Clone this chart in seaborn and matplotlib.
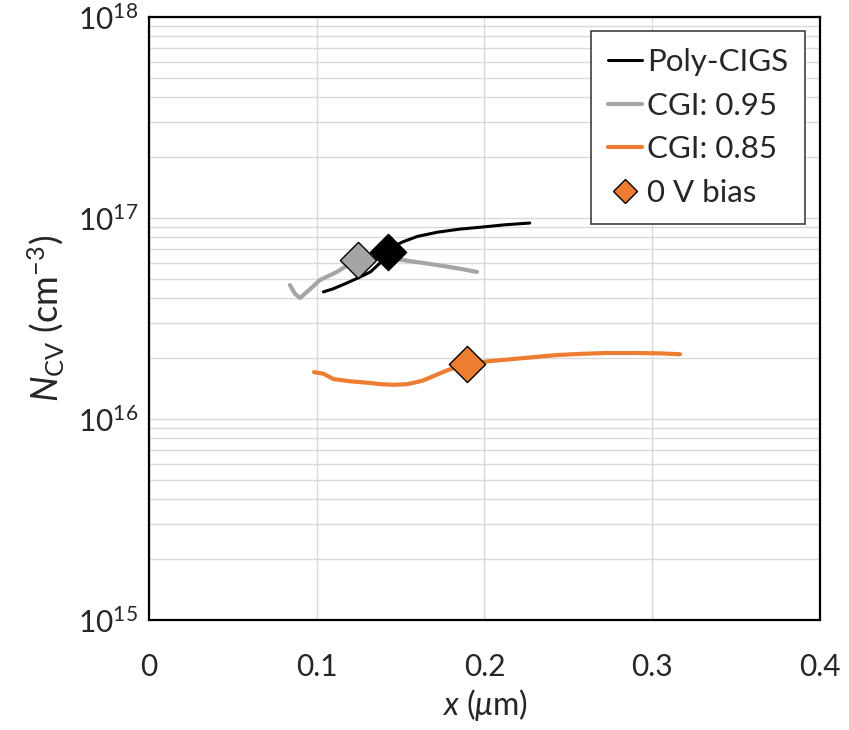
import pandas as pd
import matplotlib.pyplot as plt
import seaborn as sns
from matplotlib.lines import Line2D

sns.set_style("whitegrid")
plt.rcParams["font.family"] = ["Lato", "DejaVu Sans"]
plt.rcParams["mathtext.fontset"] = "custom"
plt.rcParams["mathtext.rm"] = "Lato"
plt.rcParams["mathtext.it"] = "Lato:italic"

# Poly-CIGS
poly_x = [0.104, 0.110, 0.118, 0.125, 0.132, 0.138, 0.1425, 0.147, 0.151, 0.160,
          0.172, 0.185, 0.199, 0.212, 0.227]
poly_y = [4.29e16, 4.45e16, 4.75e16, 5.05e16, 5.39e16, 6.0e16, 6.78e16, 7.3e16, 7.59e16, 8.1e16,
          8.5e16, 8.8e16, 9.02e16, 9.25e16, 9.44e16]

# CGI 0.95
g95_x = [0.084, 0.087, 0.090, 0.095, 0.102, 0.112, 0.118, 0.1246, 0.136, 0.151,
         0.162, 0.172, 0.185, 0.1955]
g95_y = [4.64e16, 4.2e16, 4.0e16, 4.35e16, 4.92e16, 5.39e16, 5.8e16, 6.18e16, 6.32e16, 6.18e16,
         6.0e16, 5.83e16, 5.6e16, 5.39e16]

# CGI 0.85
g85_x = [0.0984, 0.104, 0.110, 0.120, 0.132, 0.138, 0.146, 0.154, 0.163, 0.170,
         0.178, 0.1896, 0.203, 0.215, 0.229, 0.243, 0.258, 0.273, 0.290, 0.305, 0.3166]
g85_y = [1.71e16, 1.68e16, 1.58e16, 1.54e16, 1.51e16, 1.49e16, 1.48e16, 1.49e16, 1.55e16, 1.64e16,
         1.75e16, 1.88e16, 1.94e16, 1.98e16, 2.03e16, 2.08e16, 2.11e16, 2.13e16, 2.13e16, 2.12e16, 2.10e16]

# 0 V bias points
bias_x = [0.1425, 0.1246, 0.1896]
bias_y = [6.78e16, 6.18e16, 1.88e16]
bias_colors = ["#000000", "#a5a5a5", "#ed7d31"]

series = [("Poly-CIGS", poly_x, poly_y, "#000000", 2.2),
          ("CGI: 0.95", g95_x, g95_y, "#a5a5a5", 3.0),
          ("CGI: 0.85", g85_x, g85_y, "#ed7d31", 3.0)]

fig = plt.figure(figsize=(8.49, 7.3), dpi=100)
ax = fig.add_axes([0.1755, 0.1507, 0.7903, 0.826])

for name, xs, ys, col, lw in series:
    df = pd.DataFrame({"x": xs, "y": ys})
    sns.lineplot(data=df, x="x", y="y", ax=ax, color=col, lw=lw, sort=False)

for bx, by, bc in zip(bias_x, bias_y, bias_colors):
    sns.scatterplot(x=[bx], y=[by], ax=ax, marker="D", s=340, color=bc,
                    edgecolor="black", linewidth=1, zorder=5)

ax.set_yscale("log")
ax.set_xlim(0, 0.4)
ax.set_ylim(1e15, 1e18)
ax.set_xticks([0, 0.1, 0.2, 0.3, 0.4])
ax.set_xticklabels(["0", "0.1", "0.2", "0.3", "0.4"])
ax.grid(True, which="major", color="#d9d9d9", lw=1)
ax.grid(True, which="minor", axis="y", color="#d9d9d9", lw=1)
ax.tick_params(axis="both", labelsize=21.5, length=0)
ax.tick_params(axis="x", pad=24)
ax.tick_params(axis="y", pad=8)
for s in ["top", "right", "left", "bottom"]:
    ax.spines[s].set_color("black")
    ax.spines[s].set_linewidth(1.6)

ax.set_xlabel(r"$\mathit{x}$ ($\mu$m)", fontsize=23, labelpad=4)
ax.set_ylabel(r"$\mathit{N}_{\mathrm{CV}}$ (cm$^{-3}$)", fontsize=26, labelpad=8)

handles = [Line2D([], [], color="#000000", lw=2.2),
           Line2D([], [], color="#a5a5a5", lw=3),
           Line2D([], [], color="#ed7d31", lw=3),
           Line2D([], [], color="#ed7d31", marker="D", ls="none", markersize=12,
                  markeredgecolor="black", markeredgewidth=1)]
labels = ["Poly-CIGS", "CGI: 0.95", "CGI: 0.85", "0 V bias"]
leg = ax.legend(handles, labels, loc="upper right", bbox_to_anchor=(0.978, 0.977),
                fontsize=22.5, frameon=True, fancybox=False, handlelength=1.1,
                handletextpad=0.15, borderpad=0.55, labelspacing=0.5, borderaxespad=0)
leg.get_frame().set_edgecolor("#404040")
leg.get_frame().set_linewidth(1.2)
leg.get_frame().set_alpha(1)

fig.savefig("out.png", dpi=100)
